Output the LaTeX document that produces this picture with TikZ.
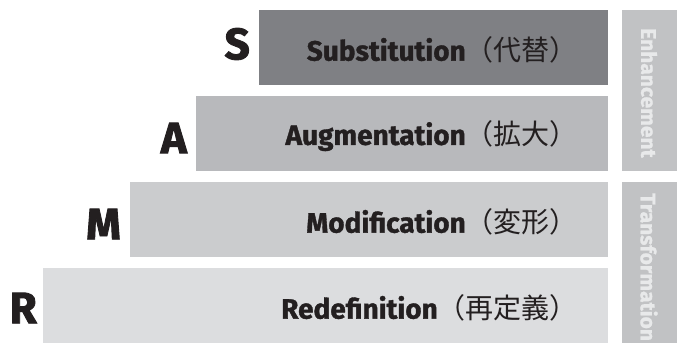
\documentclass[tikz,border=0pt]{standalone}
\usepackage{fontspec}
\setmainfont{Fira Sans}
\newfontfamily\labfont{Fira Sans Bold}[FakeBold=1.2]
\newfontfamily\letfont{Fira Sans Bold}[FakeBold=2]
\newfontfamily\tabfont{Fira Sans Bold}[FakeBold=1]
\newfontfamily\cjk{Noto Sans CJK JP}
\definecolor{barS}{HTML}{7F8084}
\definecolor{barA}{HTML}{B8B9BC}
\definecolor{barM}{HTML}{CBCCCE}
\definecolor{barR}{HTML}{DCDDDF}
\definecolor{tabc}{HTML}{C1C2C4}
\definecolor{tabtext}{HTML}{E8E9EA}
\definecolor{ink}{HTML}{231F20}
\begin{document}
\begin{tikzpicture}[x=1pt,y=-1pt,
  bar/.style={draw=none,inner sep=0pt},
  lbl/.style={anchor=east,inner sep=0pt,text=ink,font=\fontsize{28}{32}\selectfont},
  letter/.style={anchor=east,inner sep=0pt,text=ink,font=\letfont\fontsize{44}{48}\selectfont},
  tabtxt/.style={rotate=-90,anchor=west,inner sep=0pt,text=tabtext,font=\tabfont\fontsize{21}{24}\selectfont}]
\useasboundingbox (0,0) rectangle (677,343);
\fill[white] (0,0) rectangle (677,343);
% bars
\fill[barS] (259,10) rectangle (608,85);
\node[bar] (sbar) at (433.5,47.5) {};
\fill[barA] (196,96) rectangle (608,171);
\node[bar] (abar) at (402,133.5) {};
\fill[barM] (130,182) rectangle (608,257);
\node[bar] (mbar) at (369,219.5) {};
\fill[barR] (43,268) rectangle (608,343);
\node[bar] (rbar) at (325.5,305.5) {};
% big letters
\node[letter] (S) at (250,44) {S};
\node[letter] (A) at (187,138) {A};
\node[letter] (M) at (121,224) {M};
\node[letter] (R) at (37,308) {R};
% labels
\node[lbl] (ls) at (578,50) {{\labfont Substitution}{\cjk （代替）}};
\node[lbl] (la) at (578,136) {{\labfont Augmentation}{\cjk （拡大）}};
\node[lbl] (lm) at (578,222) {{\labfont Modification}{\cjk （変形）}};
\node[lbl] (lr) at (578,308) {{\labfont Redefinition}{\cjk （再定義）}};
% tabs
\fill[tabc] (622,10) rectangle (677,171);
\fill[tabc] (622,182) rectangle (677,343);
\begin{scope}
\clip (622,10) rectangle (677,171);
\node[tabtxt] (te) at (649,28) {Enhancement};
\end{scope}
\begin{scope}
\clip (622,182) rectangle (677,343);
\node[tabtxt] (tt) at (649,193) {Transformation};
\end{scope}
\end{tikzpicture}
\end{document}
